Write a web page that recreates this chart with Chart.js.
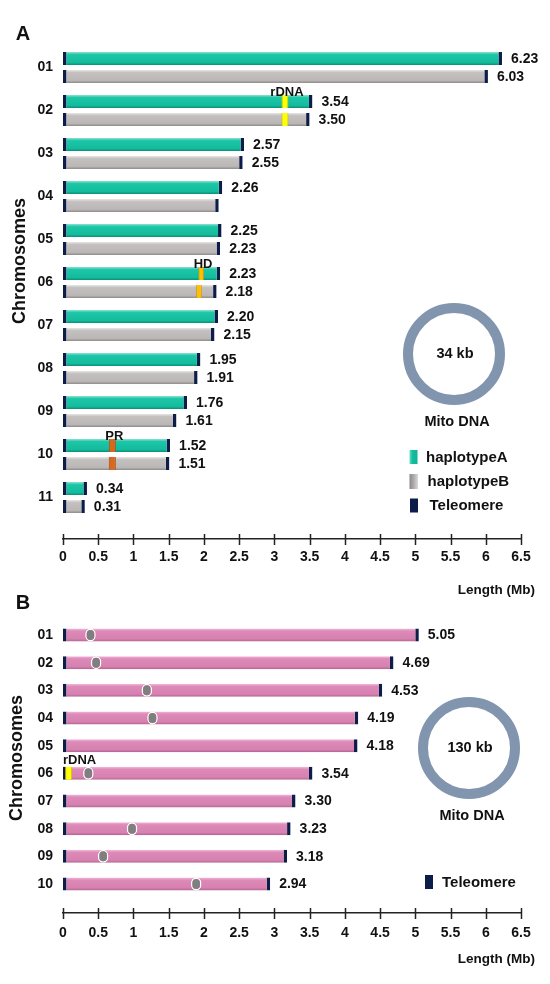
<!DOCTYPE html>
<html><head><meta charset="utf-8">
<script src="https://cdn.jsdelivr.net/npm/chart.js@4.4.1/dist/chart.umd.min.js"></script>
<style>
html,body{margin:0;padding:0;background:#fff;}
#wrap{position:relative;width:550px;height:984px;overflow:hidden;}
#cA{position:absolute;left:0;top:0;}
#cB{position:absolute;left:0;top:585px;}
</style></head><body>
<div id="wrap">
<canvas id="cA" width="550" height="600"></canvas>
<canvas id="cB" width="550" height="399"></canvas>
</div>
<script>
// ---------------- DATA : panel A ----------------
const chromA = ['01','02','03','04','05','06','07','08','09','10','11'];
const hapA = [6.23,3.54,2.57,2.26,2.25,2.23,2.20,1.95,1.76,1.52,0.34];
const hapB = [6.03,3.50,2.55,2.21,2.23,2.18,2.15,1.91,1.61,1.51,0.31];
const hapALabels = ['6.23','3.54','2.57','2.26','2.25','2.23','2.20','1.95','1.76','1.52','0.34'];
const hapBLabels = ['6.03','3.50','2.55','','2.23','2.18','2.15','1.91','1.61','1.51','0.31'];
const featNamesA = ['rDNA','HD','PR'];
const featChromA = ['02','06','10'];
const featRangeHapA = [[3.10,3.20],[1.92,2.00],[0.65,0.75]];
const featRangeHapB = [[3.10,3.20],[1.89,1.97],[0.65,0.75]];
const mitoA = '34 kb';
// ---------------- DATA : panel B ----------------
const chromB = ['01','02','03','04','05','06','07','08','09','10'];
const lenB = [5.05,4.69,4.53,4.19,4.18,3.54,3.30,3.23,3.18,2.94];
const lenBLabels = ['5.05','4.69','4.53','4.19','4.18','3.54','3.30','3.23','3.18','2.94'];
const centromereB = [0.39,0.47,1.19,1.27,null,0.36,null,0.98,0.57,1.89];
const featNamesB = ['rDNA'];
const featChromB = ['06'];
const featRangeB = [[0.03,0.13]];
const mitoB = '130 kb';
// ---------------- axis ticks ----------------
const lengthTicks = [0,0.5,1,1.5,2,2.5,3,3.5,4,4.5,5,5.5,6,6.5];

// ---------------- styles ----------------
Chart.defaults.font.family = "'Liberation Sans', Arial, Helvetica, sans-serif";
Chart.defaults.font.weight = 'bold';
Chart.defaults.color = '#111';
const FONT = "'Liberation Sans', Arial, Helvetica, sans-serif";
const NAVY = '#0c1d4a';
const TEAL = [[0,'#8ae3d1'],[0.2,'#1dc6a6'],[0.8,'#13bc9c'],[1,'#0a8f77']];
const GRAY = [[0,'#e8e6e6'],[0.2,'#c4c0c0'],[0.8,'#bbb7b7'],[1,'#8f8b8b']];
const PINK = [[0,'#f3badb'],[0.2,'#dd8ab8'],[0.8,'#d681b0'],[1,'#b2628f']];
const featColorsA = ['#ffff00','#ffc000','#d9671c'];
const featEdgeA = ['#c9c400','#d99a00','#a9501a'];

function barFill(stops, slot, nSlots, catP, barP) {
  return function(ctx) {
    const chart = ctx.chart, ys = chart.scales && chart.scales.y;
    const solid = stops[2][1];
    if (ctx.type !== 'data' || !ys || !ctx.parsed) return solid;
    const sp = Math.abs(ys.getPixelForValue(2) - ys.getPixelForValue(1));
    const pix = ys.getPixelForValue(ctx.parsed.y);
    const chunk = sp * catP / nSlots;
    const c = pix - sp * catP / 2 + chunk * (slot + 0.5);
    const half = chunk * barP / 2;
    if (!isFinite(c) || !isFinite(half) || half <= 0) return solid;
    const g = chart.ctx.createLinearGradient(0, c - half, 0, c + half);
    stops.forEach(s => g.addColorStop(s[0], s[1]));
    return g;
  };
}

// value labels + feature names
const labelPlugin = {
  id: 'labelPlugin',
  afterDatasetsDraw(chart) {
    const ctx = chart.ctx;
    ctx.save();
    chart.data.datasets.forEach((ds, di) => {
      const meta = chart.getDatasetMeta(di);
      if (ds.valueTexts) {
        ctx.font = 'bold 14px ' + FONT;
        ctx.fillStyle = '#111';
        ctx.textAlign = 'left';
        ctx.textBaseline = 'middle';
        meta.data.forEach((el, i) => {
          const t = ds.valueTexts[i];
          if (t) ctx.fillText(t, el.x + 9, el.y + 0.5);
        });
      }
      if (ds.featTexts) {
        ctx.font = 'bold 13px ' + FONT;
        ctx.fillStyle = '#111';
        ctx.textBaseline = 'alphabetic';
        meta.data.forEach((el, i) => {
          const t = ds.featTexts[i];
          if (!t) return;
          const top = el.y - el.height / 2;
          if (ds.featAlign === 'left') {
            ctx.textAlign = 'left';
            ctx.fillText(t, chart.chartArea.left, top - 3);
          } else {
            ctx.textAlign = 'center';
            ctx.fillText(t, (el.x + el.base) / 2 + 2, top + 0.5);
          }
        });
      }
    });
    ctx.restore();
  }
};

function drawCommon(chart, d) {
  const ctx = chart.ctx;
  const xs = chart.scales.x;
  ctx.save();
  // crossing tick marks
  ctx.strokeStyle = '#222';
  ctx.lineWidth = 1.5;
  xs.ticks.forEach(t => {
    const px = Math.round(xs.getPixelForValue(t.value)) + 0.5;
    ctx.beginPath();
    ctx.moveTo(px, xs.top - 5);
    ctx.lineTo(px, xs.top + 6);
    ctx.stroke();
  });
  ctx.fillStyle = '#111';
  // panel letter
  ctx.font = 'bold 20px ' + FONT;
  ctx.textAlign = 'center'; ctx.textBaseline = 'middle';
  ctx.fillText(d.letter, 23, d.letterY);
  // y title
  ctx.save();
  ctx.translate(d.yTitleX, d.yTitleY);
  ctx.rotate(-Math.PI / 2);
  ctx.font = 'bold 18px ' + FONT;
  ctx.fillText('Chromosomes', 0, 0);
  ctx.restore();
  // x title
  ctx.font = 'bold 13.5px ' + FONT;
  ctx.textAlign = 'right';
  ctx.fillText('Length (Mb)', 535, d.xTitleY);
  // mito ring
  ctx.beginPath();
  ctx.arc(d.ringX, d.ringY, 46, 0, Math.PI * 2);
  ctx.strokeStyle = '#8195ae';
  ctx.lineWidth = 10;
  ctx.stroke();
  ctx.font = 'bold 14.5px ' + FONT;
  ctx.textAlign = 'center';
  ctx.fillText(d.mito, d.ringX + 1, d.ringY);
  ctx.fillText('Mito DNA', d.ringX + 3, d.mitoY);
  // legend
  ctx.font = 'bold 15px ' + FONT;
  ctx.textAlign = 'left';
  d.legend.forEach(r => {
    let fill = r.color;
    if (Array.isArray(r.color)) {
      const g = ctx.createLinearGradient(r.bx, 0, r.bx + r.bw, 0);
      r.color.forEach(s => g.addColorStop(s[0], s[1]));
      fill = g;
    }
    ctx.fillStyle = fill;
    ctx.fillRect(r.bx, r.y - r.bh / 2, r.bw, r.bh);
    ctx.fillStyle = '#111';
    ctx.fillText(r.text, r.tx, r.y + 0.5);
  });
  ctx.restore();
}

function axisCfg(xHeight, tickPad) {
  return {
    type: 'linear', min: 0, max: 6.5, stacked: false, offset: false,
    afterBuildTicks: s => { s.ticks = lengthTicks.map(v => ({ value: v })); },
    afterFit: s => { s.height = xHeight; },
    grid: { display: false, drawTicks: false, offset: false },
    border: { display: true, color: '#222', width: 1.5 },
    ticks: { padding: tickPad, autoSkip: false, maxRotation: 0, color: '#111',
      font: { size: 14, weight: 'bold' }, callback: v => String(v) }
  };
}
function yCfg(names, maxV) {
  return {
    type: 'linear', reverse: true, min: 0.5, max: maxV, offset: false, bounds: 'data',
    afterBuildTicks: s => { s.ticks = names.map((n, i) => ({ value: i + 1 })); },
    afterFit: s => { s.width = 63; },
    grid: { display: false, drawTicks: false, offset: false },
    border: { display: false },
    ticks: { padding: 10, autoSkip: false, color: '#111',
      font: { size: 14, weight: 'bold' }, callback: v => names[v - 1] }
  };
}

// ---------------- Chart A ----------------
const catPA = 0.837, barPA = 0.722;
new Chart(document.getElementById('cA'), {
  type: 'bar',
  data: {
    datasets: [
      { label: 'featA', stack: 'A', order: 0,
        data: featChromA.map((c, i) => ({ y: chromA.indexOf(c) + 1, x: featRangeHapA[i] })),
        backgroundColor: featColorsA, borderColor: featEdgeA,
        borderWidth: { left: 1, right: 1, top: 0, bottom: 0 }, borderSkipped: false,
        featTexts: featNamesA },
      { label: 'featB', stack: 'B', order: 0,
        data: featChromA.map((c, i) => ({ y: chromA.indexOf(c) + 1, x: featRangeHapB[i] })),
        backgroundColor: featColorsA, borderColor: featEdgeA,
        borderWidth: { left: 1, right: 1, top: 0, bottom: 0 }, borderSkipped: false },
      { label: 'haplotypeA', stack: 'A', order: 1,
        data: hapA.map((v, i) => ({ y: i + 1, x: v })),
        backgroundColor: barFill(TEAL, 0, 2, catPA, barPA), borderColor: NAVY,
        borderWidth: { left: 3.5, right: 3.5, top: 0, bottom: 0 }, borderSkipped: false,
        valueTexts: hapALabels },
      { label: 'haplotypeB', stack: 'B', order: 1,
        data: hapB.map((v, i) => ({ y: i + 1, x: v })),
        backgroundColor: barFill(GRAY, 1, 2, catPA, barPA), borderColor: NAVY,
        borderWidth: { left: 3.5, right: 3.5, top: 0, bottom: 0 }, borderSkipped: false,
        valueTexts: hapBLabels }
    ]
  },
  options: {
    indexAxis: 'y', responsive: false, animation: false, events: [],
    devicePixelRatio: 1,
    layout: { padding: { left: 0, right: 29, top: 46, bottom: 0 } },
    datasets: { bar: { categoryPercentage: catPA, barPercentage: barPA } },
    scales: { y: yCfg(chromA, 11.965), x: axisCfg(61, 10) },
    plugins: { legend: { display: false }, tooltip: { enabled: false } }
  },
  plugins: [labelPlugin, { id: 'decorA', afterDraw(chart) {
    drawCommon(chart, {
      letter: 'A', letterY: 34, yTitleX: 20, yTitleY: 261, xTitleY: 590,
      ringX: 454, ringY: 354, mito: mitoA, mitoY: 422,
      legend: [
        { text: 'haplotypeA', color: [[0,'#6fdcc6'],[0.35,'#13bf9f'],[1,'#11b395']], bx: 409.5, bw: 8, bh: 14, y: 457, tx: 426 },
        { text: 'haplotypeB', color: [[0,'#8c8888'],[0.5,'#b0acac'],[1,'#dcd9d9']], bx: 409.5, bw: 8.5, bh: 15, y: 481.5, tx: 427.5 },
        { text: 'Teleomere', color: NAVY, bx: 410, bw: 8, bh: 14, y: 505.5, tx: 429.5 }
      ]
    });
  } }]
});

// ---------------- Chart B ----------------
const catPB = 1, barPB = 0.47;
const cenData = [];
centromereB.forEach((c, i) => { if (c !== null) cenData.push({ y: i + 1, x: [c - 0.075, c + 0.075] }); });
new Chart(document.getElementById('cB'), {
  type: 'bar',
  data: {
    datasets: [
      { label: 'rDNA', stack: 'S', order: 0,
        data: featChromB.map((c, i) => ({ y: chromB.indexOf(c) + 1, x: featRangeB[i] })),
        backgroundColor: '#ffff00', borderColor: '#c9c400',
        borderWidth: { left: 1, right: 1, top: 0, bottom: 0 }, borderSkipped: false,
        featTexts: featNamesB, featAlign: 'left' },
      { label: 'centromere', stack: 'S', order: 0, data: cenData,
        backgroundColor: '#7f7f7f', borderColor: '#ffffff', borderWidth: 1.5,
        borderSkipped: false, borderRadius: 6 },
      { label: 'chromosome', stack: 'S', order: 1,
        data: lenB.map((v, i) => ({ y: i + 1, x: v })),
        backgroundColor: barFill(PINK, 0, 1, catPB, barPB), borderColor: NAVY,
        borderWidth: { left: 3.5, right: 3.5, top: 0, bottom: 0 }, borderSkipped: false,
        valueTexts: lenBLabels }
    ]
  },
  options: {
    indexAxis: 'y', responsive: false, animation: false, events: [],
    devicePixelRatio: 1,
    layout: { padding: { left: 0, right: 29, top: 36.17, bottom: 0 } },
    datasets: { bar: { categoryPercentage: catPB, barPercentage: barPB } },
    scales: { y: yCfg(chromB, 11.048), x: axisCfg(71, 12) },
    plugins: { legend: { display: false }, tooltip: { enabled: false } }
  },
  plugins: [labelPlugin, { id: 'decorB', afterDraw(chart) {
    drawCommon(chart, {
      letter: 'B', letterY: 18, yTitleX: 17, yTitleY: 173, xTitleY: 374,
      ringX: 469, ringY: 163, mito: mitoB, mitoY: 231,
      legend: [
        { text: 'Teleomere', color: NAVY, bx: 425, bw: 8, bh: 14, y: 297, tx: 442 }
      ]
    });
  } }]
});
</script>
</body></html>
